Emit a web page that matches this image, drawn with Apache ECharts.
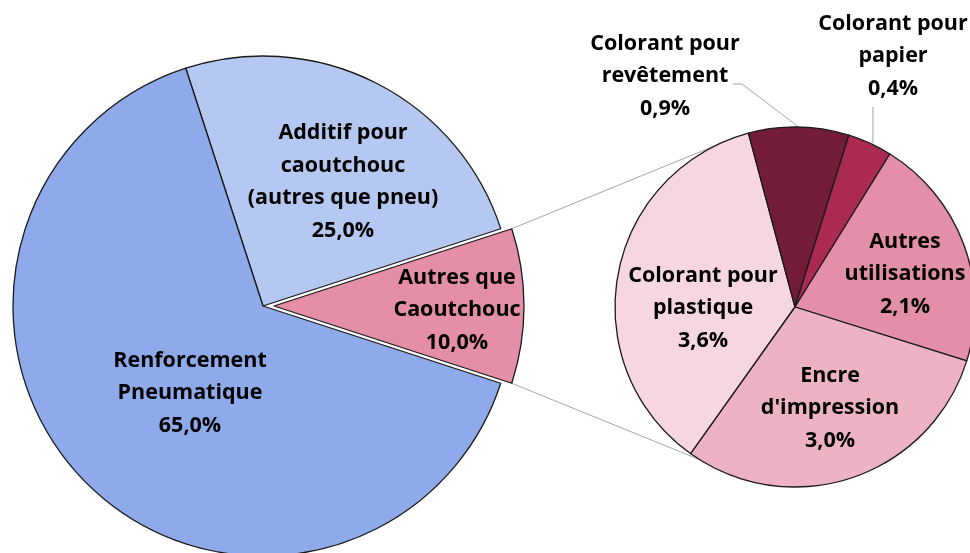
<!DOCTYPE html>
<html>
<head>
<meta charset="utf-8">
<script src="https://cdn.jsdelivr.net/npm/echarts@6/dist/echarts.min.js"></script>
<style>
  html, body { margin: 0; padding: 0; background: #fff; }
  #chart { width: 970px; height: 553px; }
</style>
</head>
<body>
<div id="chart"></div>
<script>
// données
const mainNames = ['Additif pour\ncaoutchouc\n(autres que pneu)', 'Autres que\nCaoutchouc', 'Renforcement\nPneumatique']
const mainValues = [25.0, 10.0, 65.0]
const mainColors = ['#b5c8f2', '#e48ea7', '#8faaeb']

const subNames = ['Colorant pour\nplastique', 'Colorant pour\nrevêtement', 'Colorant pour\npapier', 'Autres\nutilisations', "Encre\nd'impression"]
const subValues = [3.6, 0.9, 0.4, 2.1, 3.0]
const subColors = ['#f5d6e1', '#731c38', '#aa2a52', '#e38fa9', '#edb3c5']

// géométrie
const mainCenter = [263, 306], mainRadius = 250, mainStart = 108, explode = 11
const subCenter = [795, 307], subRadius = 180, subStart = 234.6
const connectorAngles = [116.5, 238]
const autresIdx = 1 // part détachée

// décalages des étiquettes par rapport au centre de chaque camembert
const mainLabelOffsets = [[80, -124], [194, 4], [-73, 87]]
const subLabelOffsets = [[-92, 1], [-130, -231], [98, -251], [110, -33], [35, 101]]

const fmt = v => v.toFixed(1).replace('.', ',') + '%'

const myEChart = echarts.init(document.getElementById('chart'))

const baseLabel = {
  fontFamily: 'Open Sans',
  fontWeight: 'bold',
  fontSize: 21.5,
  lineHeight: 32.5,
  color: '#000',
  align: 'center',
  formatter: p => p.name + '\n' + fmt(p.value)
}
const border = { borderColor: '#1a1a1a', borderWidth: 1.3 }
const hidden = { color: 'rgba(0,0,0,0)', borderWidth: 0 }

// centre de la part détachée, et lignes de liaison vers le second camembert
const rad = a => a * Math.PI / 180
const total = mainValues.reduce((a, b) => a + b, 0)
const before = mainValues.slice(0, autresIdx).reduce((a, b) => a + b, 0)
const a0 = mainStart - before / total * 360
const a1 = a0 - mainValues[autresIdx] / total * 360
const mid = (a0 + a1) / 2
const explodedCenter = [mainCenter[0] + explode * Math.cos(rad(mid)), mainCenter[1] - explode * Math.sin(rad(mid))]
const corner = a => [explodedCenter[0] + mainRadius * Math.cos(rad(a)), explodedCenter[1] - mainRadius * Math.sin(rad(a))]
const onSub = a => [subCenter[0] + subRadius * Math.cos(rad(a)), subCenter[1] - subRadius * Math.sin(rad(a))]
const c0 = corner(a0), c1 = corner(a1)
const t0 = onSub(connectorAngles[0]), t1 = onSub(connectorAngles[1])

const mainLayout = p => {
  const o = mainLabelOffsets[p.dataIndex]
  return { x: mainCenter[0] + o[0], y: mainCenter[1] + o[1], align: 'center', verticalAlign: 'middle' }
}

const option = {
  animation: false,
  graphic: [
    { type: 'line', shape: { x1: c0[0], y1: c0[1], x2: t0[0], y2: t0[1] }, style: { stroke: '#a6a6a6', lineWidth: 1 }, z: 0 },
    { type: 'line', shape: { x1: c1[0], y1: c1[1], x2: t1[0], y2: t1[1] }, style: { stroke: '#a6a6a6', lineWidth: 1 }, z: 0 }
  ],
  series: [
    {
      // camembert principal, sans la part détachée
      type: 'pie',
      left: 0, top: 0, width: 970, height: 553,
      center: mainCenter,
      radius: mainRadius,
      startAngle: mainStart,
      silent: true,
      itemStyle: border,
      label: Object.assign({ position: 'inside' }, baseLabel),
      labelLine: { show: false },
      labelLayout: mainLayout,
      data: mainValues.map((v, i) => ({
        name: mainNames[i],
        value: v,
        itemStyle: i === autresIdx ? hidden : { color: mainColors[i] },
        label: i === autresIdx ? { show: false } : undefined
      }))
    },
    {
      // part détachée
      type: 'pie',
      left: 0, top: 0, width: 970, height: 553,
      center: explodedCenter,
      radius: mainRadius,
      startAngle: mainStart,
      silent: true,
      itemStyle: border,
      label: Object.assign({ position: 'inside' }, baseLabel),
      labelLine: { show: false },
      labelLayout: mainLayout,
      data: mainValues.map((v, i) => ({
        name: mainNames[i],
        value: v,
        itemStyle: i === autresIdx ? { color: mainColors[i] } : hidden,
        label: i === autresIdx ? undefined : { show: false }
      }))
    },
    {
      type: 'pie',
      left: 0, top: 0, width: 3000, height: 553,
      center: subCenter,
      radius: subRadius,
      startAngle: subStart,
      silent: true,
      avoidLabelOverlap: false,
      itemStyle: border,
      label: Object.assign({ position: 'inside' }, baseLabel),
      labelLine: { show: false, lineStyle: { color: '#a6a6a6', width: 1 }, length: 20, length2: 10 },
      labelLayout: p => {
        const o = subLabelOffsets[p.dataIndex]
        const x = subCenter[0] + o[0], y = subCenter[1] + o[1]
        const res = { x: x, y: y, align: 'center', verticalAlign: 'middle' }
        const s = p.labelLinePoints ? p.labelLinePoints[0] : [x, y]
        if (p.dataIndex === 1) {
          const ly = y + 8
          res.labelLinePoints = [s, [x + 77, ly], [x + 68, ly]]
        } else if (p.dataIndex === 2) {
          const lx = s[0] + 3
          res.labelLinePoints = [[lx, s[1]], [lx, y + 51], [lx, y + 51]]
        }
        return res
      },
      data: subValues.map((v, i) => ({
        name: subNames[i],
        value: v,
        itemStyle: { color: subColors[i] },
        label: (i === 1 || i === 2) ? { position: 'outside' } : undefined,
        labelLine: (i === 1 || i === 2) ? { show: true } : undefined
      }))
    }
  ]
}

myEChart.setOption(option)
window.addEventListener('resize', () => {
  myEChart?.resize()
})
</script>
</body>
</html>
